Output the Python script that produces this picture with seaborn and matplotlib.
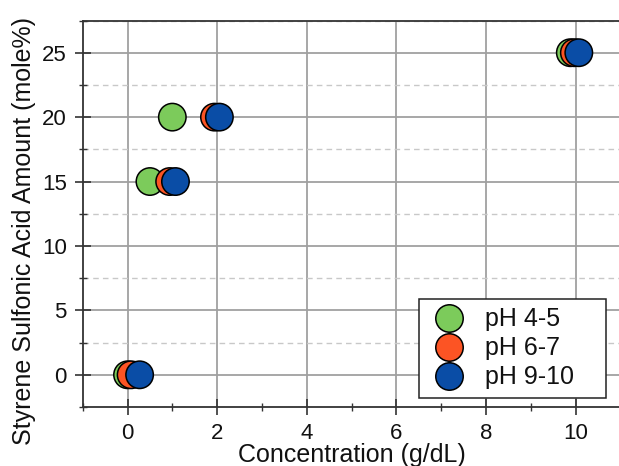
import numpy as np
import pandas as pd
import matplotlib
matplotlib.use("Agg")
import matplotlib.pyplot as plt
import seaborn as sns
from matplotlib.ticker import MultipleLocator

# ---- data ----
series = ["pH 4-5", "pH 6-7", "pH 9-10"]
conc_ph45 = [0.0, 0.5, 1.0, 9.88]
conc_ph67 = [0.08, 0.94, 1.94, 9.97]
conc_ph910 = [0.27, 1.07, 2.05, 10.07]
ssa_amount = [0, 15, 20, 25]
colors = ["#7CCB5B", "#FC5424", "#0A4DA6"]

rows = []
for name, xs in zip(series, [conc_ph45, conc_ph67, conc_ph910]):
    for x, y in zip(xs, ssa_amount):
        rows.append({"Concentration": x, "Amount": y, "Series": name})
df = pd.DataFrame(rows)

sns.set_theme(style="white")
plt.rcParams["font.family"] = ["Liberation Sans", "DejaVu Sans"]

fig = plt.figure(figsize=(6.19, 4.66), dpi=100)
ax = fig.add_axes([82.7 / 619, 1 - 407 / 466, (620.5 - 82.7) / 619, (407 - 20.5) / 466])

sns.scatterplot(data=df, x="Concentration", y="Amount", hue="Series",
                hue_order=series, palette=colors, s=390, edgecolor="black",
                linewidth=1.1, ax=ax, zorder=3, legend=True)

ax.set_xlim(-1, 11)
ax.set_ylim(-2.5, 27.5)
ax.xaxis.set_major_locator(MultipleLocator(2))
ax.xaxis.set_minor_locator(MultipleLocator(1))
ax.yaxis.set_major_locator(MultipleLocator(5))
ax.yaxis.set_minor_locator(MultipleLocator(2.5))

ax.grid(True, which="major", color="#a0a0a0", linewidth=1.3, linestyle="-", zorder=0)
ax.grid(True, which="minor", axis="y", color="#c8c8c8", linewidth=1.0,
        linestyle=(0, (4, 3)), zorder=0)
ax.set_axisbelow(True)

for sp in ax.spines.values():
    sp.set_color("#333333")
    sp.set_linewidth(1.3)

ax.tick_params(which="major", direction="inout", length=11, width=1.2,
               color="#333333", labelsize=16, pad=6, left=True, bottom=True,
               labelcolor="#111111")
ax.tick_params(which="minor", direction="inout", length=6, width=1.0,
               color="#333333", left=True, bottom=True)

ax.set_xlabel("Concentration (g/dL)", fontsize=18, labelpad=-1, color="#111111")
ax.set_ylabel("Styrene Sulfonic Acid Amount (mole%)", fontsize=18, color="#111111")
ax.yaxis.set_label_coords(-0.087, 0.455)

handles, labels = ax.get_legend_handles_labels()
leg = ax.legend(handles, labels, loc="lower left", mode="expand",
                bbox_to_anchor=(419 / 619, 1 - 398 / 466, 187 / 619, 105 / 466),
                bbox_transform=fig.transFigure, borderaxespad=0,
                fontsize=18, frameon=True, fancybox=False, markerscale=1.0,
                labelspacing=0.2, handletextpad=0.6, borderpad=0.35,
                handlelength=1.7)
leg.get_frame().set_edgecolor("#222222")
leg.get_frame().set_linewidth(1.1)
leg.get_frame().set_alpha(1)
for t in leg.get_texts():
    t.set_color("#111111")

fig.savefig("out.png", dpi=100)
